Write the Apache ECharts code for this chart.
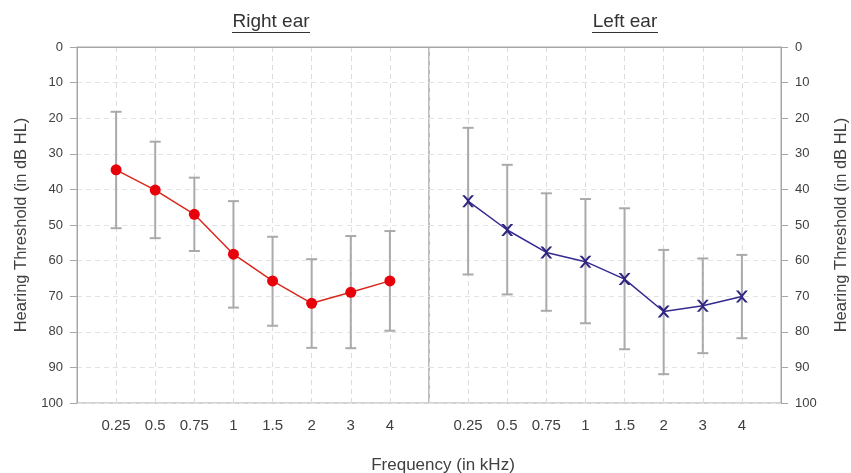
<!DOCTYPE html>
<html><head><meta charset="utf-8">
<script src="https://cdn.jsdelivr.net/npm/echarts@6/dist/echarts.min.js"></script>
<style>html,body{margin:0;padding:0;background:#fff}#c{width:851px;height:473px}</style>
</head><body><div id="c"></div>
<script>
const freqs = ['0.25','0.5','0.75','1','1.5','2','3','4'];
const rightMean = [34.5, 40.2, 47.0, 58.2, 65.7, 72.0, 68.9, 65.7];
const rightLow  = [18.2, 26.6, 36.7, 43.3, 53.3, 59.6, 53.1, 51.7];
const rightHigh = [50.9, 53.7, 57.3, 73.2, 78.3, 84.5, 84.6, 79.7];
const leftMean  = [43.3, 51.4, 57.7, 60.3, 65.2, 74.3, 72.7, 70.1];
const leftLow   = [22.7, 33.1, 41.1, 42.7, 45.3, 57.0, 59.4, 58.4];
const leftHigh  = [63.9, 69.5, 74.1, 77.6, 84.9, 91.9, 86.0, 81.8];
const yTicks = [0, 100, 10];

const cats = [''].concat(freqs, ['']);
const font = 'Liberation Sans, Arial, sans-serif';
const axisGray = '#a6a6a6';
const txt = '#404040';

function errData(lo, hi) { return freqs.map((f, i) => [f, lo[i], hi[i]]); }
function lineData(m) { return freqs.map((f, i) => [f, m[i]]); }
function errSeries(idx, lo, hi) {
  return {
    type: 'custom', xAxisIndex: idx, yAxisIndex: idx, z: 1,
    data: errData(lo, hi), silent: true,
    renderItem: function (params, api) {
      const a = api.coord([api.value(0), api.value(1)]);
      const b = api.coord([api.value(0), api.value(2)]);
      const hw = 5.5;
      const st = { stroke: '#aaaaaa', lineWidth: 2, fill: null };
      return { type: 'group', children: [
        { type: 'line', shape: { x1: a[0], y1: a[1], x2: b[0], y2: b[1] }, style: st },
        { type: 'line', shape: { x1: a[0]-hw, y1: a[1], x2: a[0]+hw, y2: a[1] }, style: st },
        { type: 'line', shape: { x1: b[0]-hw, y1: b[1], x2: b[0]+hw, y2: b[1] }, style: st }
      ]};
    }
  };
}
function xAx(gi) {
  return {
    type: 'category', gridIndex: gi, data: cats, boundaryGap: false,
    axisLine: { lineStyle: { color: axisGray, width: 1 } },
    axisTick: { show: false },
    axisLabel: { color: txt, fontSize: 15, fontFamily: font, margin: 15, interval: 0 },
    splitLine: { show: true, lineStyle: { color: '#dcdcdc', type: [5, 4] } }
  };
}
function yAx(gi, pos, showLabel) {
  return {
    type: 'value', gridIndex: gi, position: pos, inverse: true,
    min: yTicks[0], max: yTicks[1], interval: yTicks[2],
    name: 'Hearing Threshold (in dB HL)', nameLocation: 'middle', nameRotate: 90,
    nameGap: pos === 'left' ? 47 : 52,
    nameTextStyle: { color: txt, fontSize: 16.5, fontFamily: font },
    axisLine: { show: true, lineStyle: { color: axisGray, width: 1 } },
    axisTick: { show: true, length: 7, lineStyle: { color: axisGray } },
    axisLabel: { show: showLabel, color: txt, fontSize: 13, fontFamily: font, margin: 14 },
    splitLine: { show: true, lineStyle: { color: '#e3e3e3', type: [5, 4] } }
  };
}
const xPath = 'path://M0,0 L2.2,0 L5,3.2 L7.8,0 L10,0 L6.1,4.5 L6.1,5.5 L10,10 L7.8,10 L5,6.8 L2.2,10 L0,10 L3.9,5.5 L3.9,4.5 Z';

const chart = echarts.init(document.getElementById('c'), null, { renderer: 'canvas' });
chart.setOption({
  animation: false,
  backgroundColor: '#fff',
  grid: [
    { left: 77, top: 47, width: 352, height: 356, show: true, borderColor: axisGray, borderWidth: 1 },
    { left: 429, top: 47, width: 354, height: 356, show: true, borderColor: axisGray, borderWidth: 1 }
  ],
  xAxis: [xAx(0), xAx(1)],
  yAxis: [yAx(0, 'left', true), yAx(1, 'right', true)],
  graphic: [
    { type: 'text', x: 271, y: 22, style: { text: 'Right ear', fill: '#333', font: '19px ' + font, align: 'center', verticalAlign: 'middle' } },
    { type: 'line', shape: { x1: 232, y1: 32.5, x2: 310, y2: 32.5 }, style: { stroke: '#333', lineWidth: 1.2 } },
    { type: 'text', x: 625, y: 22, style: { text: 'Left ear', fill: '#333', font: '19px ' + font, align: 'center', verticalAlign: 'middle' } },
    { type: 'line', shape: { x1: 592, y1: 32.5, x2: 658, y2: 32.5 }, style: { stroke: '#333', lineWidth: 1.2 } },
    { type: 'text', x: 443, y: 465, style: { text: 'Frequency (in kHz)', fill: txt, font: '17px ' + font, align: 'center', verticalAlign: 'middle' } }
  ],
  series: [
    errSeries(0, rightLow, rightHigh),
    errSeries(1, leftLow, leftHigh),
    { type: 'line', xAxisIndex: 0, yAxisIndex: 0, z: 3, data: lineData(rightMean),
      symbol: 'circle', symbolSize: 11,
      lineStyle: { color: '#d8281c', width: 1.5 }, itemStyle: { color: '#e8000b' } },
    { type: 'line', xAxisIndex: 1, yAxisIndex: 1, z: 3, data: lineData(leftMean),
      symbol: xPath, symbolSize: 12,
      lineStyle: { color: '#342a8f', width: 1.5 }, itemStyle: { color: '#2e2580' } }
  ]
});
</script></body></html>
